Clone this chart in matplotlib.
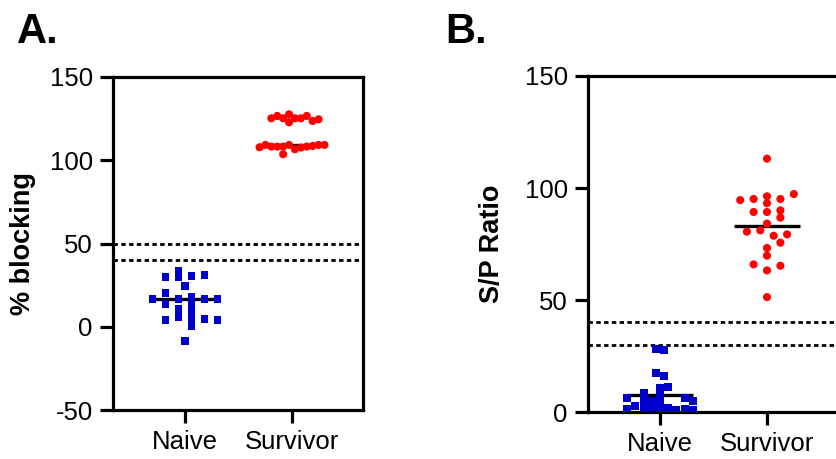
import numpy as np
import matplotlib
matplotlib.use("Agg")
import matplotlib.pyplot as plt

plt.rcParams['font.family'] = ['Liberation Sans', 'DejaVu Sans']
plt.rcParams['axes.unicode_minus'] = False

groups = ["Naive", "Survivor"]

# panel A: % blocking, (value, horizontal slot)
a_naive = [16.7, 29.9, 20.1, 13.9, 3.9, 33.7, 30.1, 16.7, 10.8, 5.9, 24.3, -8.6,
           30.5, 17.7, 13.5, 9.0, 4.7, 0.5, 31.1, 16.7, 4.8, 16.7, 4.2]
a_naive_slot = [-5, -3, -3, -3, -3, -1, -1, -1, -1, -1, 0, 0,
                1, 1, 1, 1, 1, 1, 3, 3, 3, 5, 5]
a_surv = [125.2, 126.6, 125.2, 127.6, 122.8, 125.2, 125.2, 126.6, 123.6, 124.6,
          107.8, 109.2, 108.2, 108.2, 108.2, 103.6, 109.2, 106.6, 107.6, 108.2,
          108.6, 109.2, 109.2]
a_surv_slot = [-3.5, -2.5, -1.5, -0.5, -0.5, 0.5, 1.5, 2.5, 3.5, 4.5,
               -5.5, -4.5, -3.5, -2.5, -1.5, -1.5, -0.5, 0.5, 1.5, 2.5,
               3.5, 4.5, 5.5]
a_cutoffs = [50, 40]

# panel B: S/P ratio
b_naive = [28.3, 27.5, 17.4, 16.1, 10.6, 11.3, 8.6, 6.1, 1.3, 5.1, 1.6, 5.1,
           2.4, 7.3, 3.9, 0.9, 2.8, 1.6, 0.9, 6.1, 1.3, 5.1, 0.9]
b_naive_slot = [-0.5, 0.5, -0.5, 0.5, 0, 1, -2, -4, -4, -2, -2, -1,
                -1, 0, 0, 0, -3, 1, 2, 3, 3, 4, 4]
b_surv = [113.1, 94.6, 95.1, 96.3, 93.2, 95.1, 97.3, 89.3, 89.3, 90.0, 86.8, 84.1,
          80.5, 81.1, 78.7, 79.3, 75.6, 73.2, 69.8, 65.9, 65.3, 63.2, 51.3]
b_surv_slot = [0, -4, -2, 0, 0, 2, 4, -2, 0, 2, 2, 0,
               -3, -1, 1, 3, 2, 0, 0, -2, 2, 0, 0]
b_cutoffs = [40, 30]

BLUE = "#0000cc"
RED = "#ff0000"
PX = 1 / 107.0  # one pixel in category units


def style_axis(ax, ylim, yticks, ylabel, labelpad):
    ax.set_ylim(*ylim)
    ax.set_yticks(yticks)
    ax.set_xticks([0, 1])
    ax.set_xticklabels(groups)
    for s in ax.spines.values():
        s.set_linewidth(2.3)
    ax.tick_params(width=2.3, length=9.5, labelsize=18.5, pad=5)
    ax.set_ylabel(ylabel, fontsize=19.5, fontweight='bold', labelpad=labelpad)


def draw(ax, naive, nslot, nstep, surv, sslot, sstep, cutoffs, center):
    for c in cutoffs:
        ax.axhline(c, color='black', lw=2.0, ls=(0, (1.6, 1.2)), zorder=1)
    for xc, vals in [(0, naive), (1, surv)]:
        m = center(vals)
        ax.plot([xc - 33 * PX, xc + 33 * PX], [m, m], color='black', lw=2.4,
                solid_capstyle='butt', zorder=2)
    ax.scatter(np.array(nslot) * nstep * PX, naive, marker='s', s=32,
               color=BLUE, edgecolor='none', zorder=3)
    ax.scatter(1 + np.array(sslot) * sstep * PX, surv, marker='o', s=34,
               color=RED, edgecolor='none', zorder=3)


fig = plt.figure(figsize=(8.37, 4.59), dpi=100)

axA = fig.add_axes([113 / 837, 49 / 459, 250 / 837, 333 / 459])
draw(axA, a_naive, a_naive_slot, 6.5, a_surv, a_surv_slot, 5.9, a_cutoffs, np.median)
axA.set_xlim(-72 * PX, -72 * PX + 250 * PX)
style_axis(axA, (-50, 150), [-50, 0, 50, 100, 150], "% blocking", 10)

axB = fig.add_axes([588 / 837, 47 / 459, 252 / 837, 336 / 459])
draw(axB, b_naive, b_naive_slot, 8.2, b_surv, b_surv_slot, 6.7, b_cutoffs, np.mean)
axB.set_xlim(-72 * PX, -72 * PX + 252 * PX)
style_axis(axB, (0, 150), [0, 50, 100, 150], "S/P Ratio", 14)

fig.text(17 / 837, 1 - 43 / 459, "A.", fontsize=30, fontweight='bold', va='baseline')
fig.text(445 / 837, 1 - 43 / 459, "B.", fontsize=30, fontweight='bold', va='baseline')

fig.savefig("out.png", dpi=100)
